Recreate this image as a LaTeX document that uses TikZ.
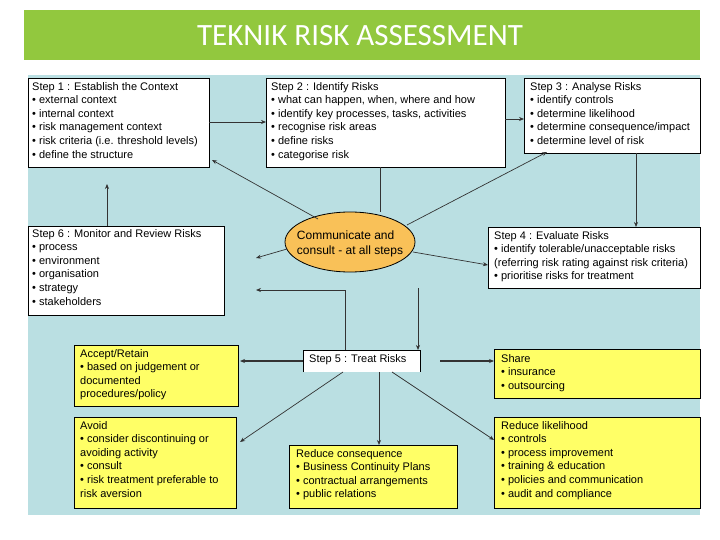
\documentclass[tikz,border=0pt]{standalone}
\usepackage{fontspec}
\setmainfont{Liberation Sans}
\newfontfamily\titlefont{Carlito}
\usetikzlibrary{arrows.meta,shapes.geometric}
\definecolor{bannergreen}{HTML}{92C83E}
\definecolor{panelblue}{HTML}{BADFE2}
\definecolor{boxyellow}{HTML}{FFFF66}
\definecolor{ovalorange}{HTML}{F9C158}
\begin{document}
\begin{tikzpicture}[x=1pt,y=-1pt,
  wbox/.style={draw=black,fill=white,line width=0.8pt},
  ybox/.style={draw=black,fill=boxyellow,line width=0.8pt},
  txt/.style={anchor=north west,align=left,font=\fontsize{11}{13.6}\selectfont,inner sep=0pt},
  arr/.style={-{Stealth[length=5pt,width=4pt]},line width=0.7pt,draw=black!80},
  ln/.style={line width=0.7pt,draw=black!80}]
\useasboundingbox (0,0) rectangle (720,540);
\fill[white] (0,0) rectangle (720,540);
\fill[bannergreen] (24,10) rectangle (700,60);
\node[text=white,font=\titlefont\fontsize{31}{34}\selectfont] (title) at (360,36) {TEKNIK RISK ASSESSMENT};
\fill[panelblue] (28,75) rectangle (700,515);
% boxes
\path[wbox] (28,78) rectangle (209,167);
\node[txt] (s1) at (32,82) {Step 1 : Establish the Context\\• external context\\• internal context\\• risk management context\\• risk criteria (i.e. threshold levels)\\• define the structure};
\path[wbox] (266,78) rectangle (505,167);
\node[txt] (s2) at (271,82) {Step 2 : Identify  Risks\\• what can happen, when, where and how\\• identify key processes, tasks, activities\\• recognise risk areas\\• define risks\\• categorise risk};
\path[wbox] (524,78) rectangle (700,153);
\node[txt] (s3) at (530,82) {Step 3 : Analyse Risks\\• identify controls\\• determine likelihood\\• determine consequence/impact\\• determine level of risk};
\path[wbox] (28,226) rectangle (224,315);
\node[txt] (s6) at (32,229) {Step 6 : Monitor and Review Risks\\• process\\• environment\\• organisation\\• strategy\\• stakeholders};
\path[wbox] (488,227) rectangle (700,288);
\node[txt] (s4) at (494,231) {Step 4 : Evaluate Risks\\• identify tolerable/unacceptable risks\\(referring risk rating against risk criteria)\\• prioritise risks for treatment};
\node[ellipse,draw=black,fill=ovalorange,minimum width=130pt,minimum height=60pt,line width=0.8pt] (oval) at (350,242) {};
\node[align=left,font=\fontsize{12}{14.5}\selectfont] (ovt) at (350,244) {Communicate and\\consult - at all steps};
\path[fill=white] (303,350) rectangle (420,372);
\draw[line width=0.8pt] (303,372) -- (303,350) -- (420,350) -- (420,372);
\node[txt] (s5) at (309,354) {Step 5 : Treat Risks};
\path[ybox] (74,345) rectangle (238,406);
\node[txt] (acc) at (80,349) {Accept/Retain\\• based on judgement or\\documented\\procedures/policy};
\path[ybox] (494,349) rectangle (700,398);
\node[txt] (sh) at (501,354) {Share\\• insurance\\• outsourcing};
\path[ybox] (74,417) rectangle (236,508);
\node[txt] (av) at (80,421) {Avoid\\• consider discontinuing or\\avoiding activity\\• consult\\• risk treatment preferable to\\risk aversion};
\path[ybox] (289,445) rectangle (457,508);
\node[txt] (rc) at (296,449) {Reduce consequence\\• Business Continuity Plans\\• contractual arrangements\\• public relations};
\path[ybox] (494,417) rectangle (700,508);
\node[txt] (rl) at (501,421) {Reduce likelihood\\• controls\\• process improvement\\• training \& education\\• policies and communication\\• audit and compliance};
% connectors
\coordinate (a1) at (209,122); \coordinate (a2) at (266,122);
\draw[arr] (a1) -- (a2);
\coordinate (b1) at (505,119); \coordinate (b2) at (524,119);
\draw[arr] (b1) -- (b2);
\coordinate (c1) at (636,153); \coordinate (c2) at (636,227);
\draw[arr] (c1) -- (c2);
\coordinate (d1) at (380,167);
\draw[ln] (d1) -- (oval.north -| d1);
\coordinate (e1) at (318,219); \coordinate (e2) at (212,160);
\draw[arr] (e1) -- (e2);
\coordinate (f1) at (407,225); \coordinate (f2) at (547,152);
\draw[arr] (f1) -- (f2);
\coordinate (g1) at (287,249); \coordinate (g2) at (256,258);
\draw[arr] (g1) -- (g2);
\coordinate (h1) at (413,252); \coordinate (h2) at (488,265);
\draw[arr] (h1) -- (h2);
\coordinate (i1) at (107,226); \coordinate (i2) at (107,184);
\draw[arr] (i1) -- (i2);
\coordinate (j1) at (418,288); \coordinate (j2) at (418,350);
\draw[arr] (j1) -- (j2);
\coordinate (k1) at (345,350); \coordinate (k2) at (345,290); \coordinate (k3) at (256,290);
\draw[arr] (k1) -- (k2) -- (k3);
\coordinate (l1) at (303,361); \coordinate (l2) at (240,361);
\draw[arr,line width=1.2pt] (l1) -- (l2);
\coordinate (m1) at (440,361); \coordinate (m2) at (494,361);
\draw[arr,line width=1.2pt] (m1) -- (m2);
\coordinate (n1) at (343,372); \coordinate (n2) at (240,442);
\draw[arr] (n1) -- (n2);
\coordinate (o1) at (379,372); \coordinate (o2) at (379,445);
\draw[arr] (o1) -- (o2);
\coordinate (p1) at (392,372); \coordinate (p2) at (494,440);
\draw[arr] (p1) -- (p2);
\end{tikzpicture}
\end{document}
